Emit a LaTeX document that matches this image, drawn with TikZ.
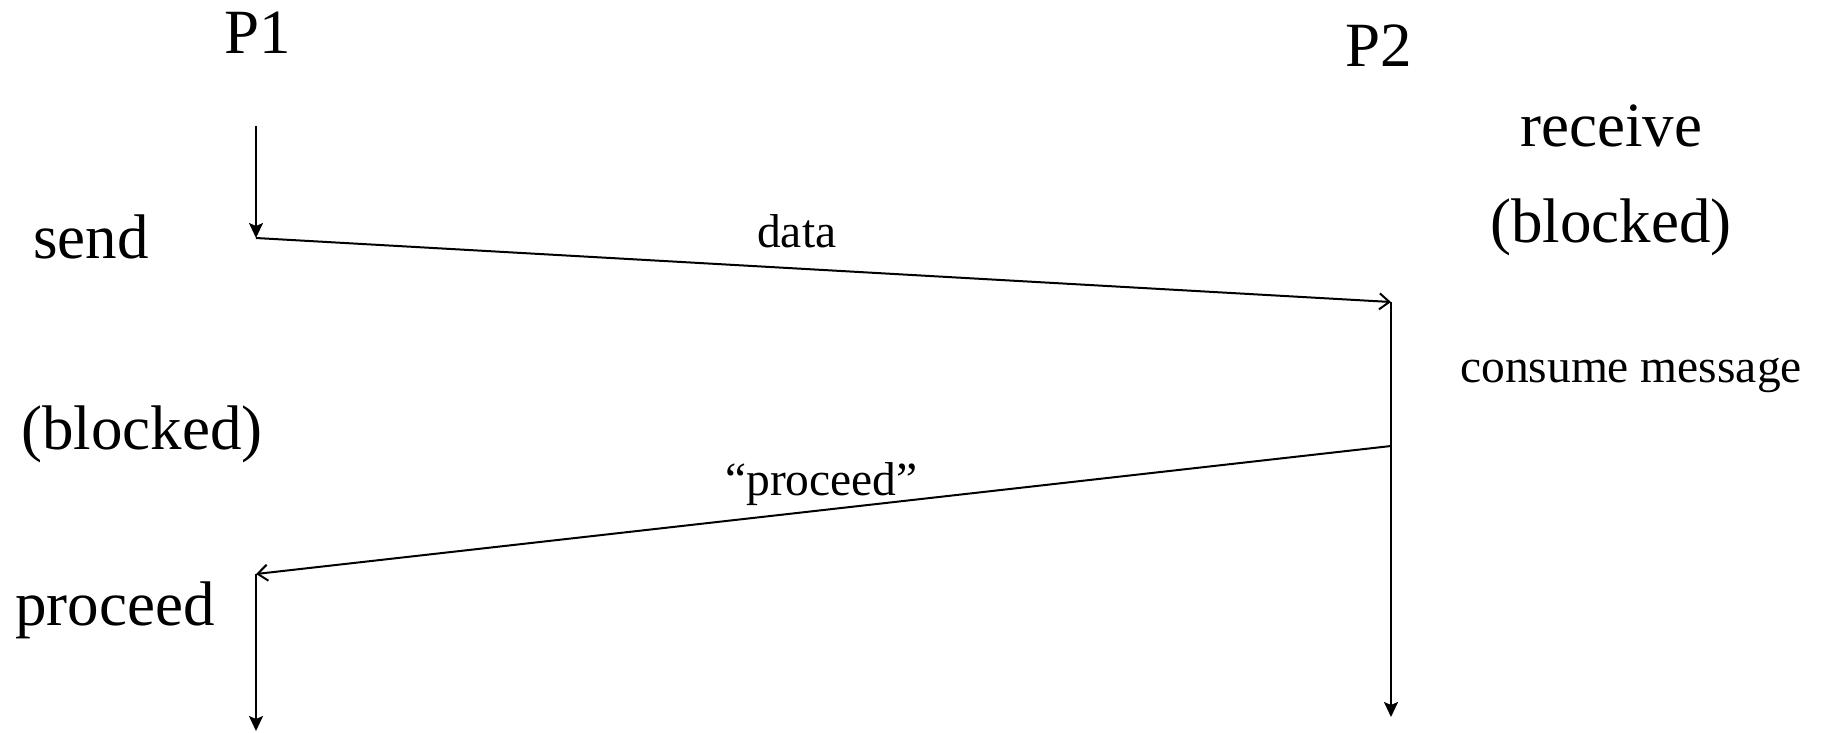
\documentclass[tikz,border=0pt]{standalone}
\usepackage{fontspec}
\setmainfont{Liberation Serif}
\usetikzlibrary{arrows.meta}
\begin{document}
\begin{tikzpicture}[x=1pt,y=-1pt,
  big/.style={anchor=base west,inner sep=0pt,font=\fontsize{63}{75}\selectfont},
  small/.style={anchor=base west,inner sep=0pt,font=\fontsize{47.5}{57}\selectfont},
  life/.style={line width=2pt,-{Stealth[length=15pt,width=14pt,inset=3pt]}},
  msg/.style={line width=2pt,-{Straight Barb[length=10pt,width=16pt,line width=2pt]}}]
\useasboundingbox (0,0) rectangle (1824,732);
% labels
\node[big] (p1) at (224,53) {P1};
\node[big] (p2) at (1345,66) {P2};
\node[big] (recv) at (1520,146) {receive};
\node[big] (blk2) at (1490,242) {(blocked)};
\node[big] (send) at (33,258) {send};
\node[big] (blk1) at (21,449) {(blocked)};
\node[big] (proc) at (15,625) {proceed};
\node[small] (cons) at (1460,382) {consume message};
\node[small] (data) at (757,247) {data};
\node[small] (qproc) at (725,495) {``proceed''};
% coordinates
\coordinate (a0) at (256,126);
\coordinate (a1) at (256,238);
\coordinate (b1) at (1391,302);
\coordinate (b2) at (1391,446);
\coordinate (b3) at (1391,717);
\coordinate (a2) at (256,574);
\coordinate (a3) at (256,731);
% lines
\draw[life] (a0) -- (a1);
\draw[msg] (a1) -- (b1);
\draw[life] (b1) -- (b3);
\draw[msg] (b2) -- (a2);
\draw[life] (a2) -- (a3);
\end{tikzpicture}
\end{document}
